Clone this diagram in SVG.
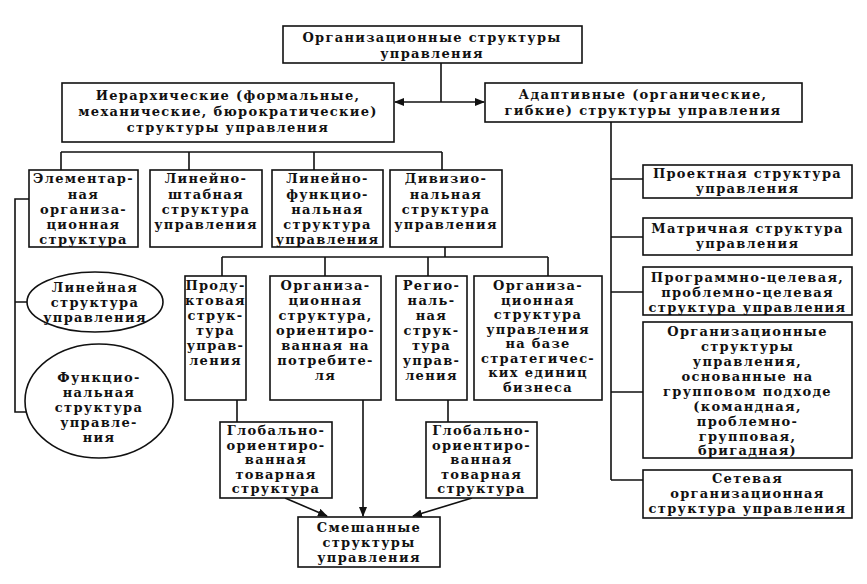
<svg xmlns="http://www.w3.org/2000/svg" width="867" height="584" viewBox="0 0 867 584">
<style>
.b{fill:#fff;stroke:#111;stroke-width:1.6}
.t{font-family:"DejaVu Serif","Liberation Serif",serif;font-weight:bold;font-size:13px;letter-spacing:1.3px;fill:#111;text-anchor:middle}
.c{fill:none;stroke:#111;stroke-width:1.6}
</style>
<defs>
<marker id="ah" markerWidth="10" markerHeight="8" refX="9" refY="4" orient="auto" markerUnits="userSpaceOnUse">
<path d="M0,0 L10,4 L0,8 Z" fill="#111"/>
</marker>
</defs>
<rect width="867" height="584" fill="#fff"/>
<g id="connectors">
<path class="c" d="M441 63 V102"/>
<path class="c" d="M441 102 H395" marker-end="url(#ah)"/>
<path class="c" d="M441 102 H484" marker-end="url(#ah)"/>
<path class="c" d="M61 152 H442 M61 152 V170 M189 152 V170 M314 152 V170 M442 152 V170"/>
<path class="c" d="M611 122 V480 M611 179 H643 M611 237 H643 M611 292 H643 M611 392 H643 M611 480 H643"/>
<path class="c" d="M29 199 H15 V412 H27 M15 302 H28"/>
<path class="c" d="M445 247 V257 M222 257 H548 M222 257 V276 M325 257 V276 M428 257 V276 M548 257 V276"/>
<path class="c" d="M237 400 V422 M448 400 V422"/>
<path class="c" d="M363 400 V516" marker-end="url(#ah)"/>
<path class="c" d="M285 498 L327 516" marker-end="url(#ah)"/>
<path class="c" d="M472 498 L413 516" marker-end="url(#ah)"/>
</g>
<g id="root"><rect class="b" x="283" y="26" width="299" height="37"/>
<text class="t"><tspan x="432" y="42">Организационные структуры</tspan><tspan x="432" y="58">управления</tspan></text></g>
<g id="hier"><rect class="b" x="62" y="83" width="332" height="59"/>
<text class="t"><tspan x="228" y="100">Иерархические (формальные,</tspan><tspan x="228" y="116">механические, бюрократические)</tspan><tspan x="228" y="132">структуры управления</tspan></text></g>
<g id="adapt"><rect class="b" x="485" y="83" width="317" height="39"/>
<text class="t"><tspan x="643" y="99">Адаптивные (органические,</tspan><tspan x="643" y="115">гибкие) структуры управления</tspan></text></g>
<g id="elem"><rect class="b" x="29" y="170" width="109" height="77"/>
<text class="t"><tspan x="83.5" y="183">Элементар-</tspan><tspan x="83.5" y="199">ная</tspan><tspan x="83.5" y="214">организа-</tspan><tspan x="83.5" y="229">ционная</tspan><tspan x="83.5" y="244">структура</tspan></text></g>
<g id="linstaff"><rect class="b" x="150" y="170" width="112" height="77"/>
<text class="t"><tspan x="206" y="183">Линейно-</tspan><tspan x="206" y="199">штабная</tspan><tspan x="206" y="214">структура</tspan><tspan x="206" y="229">управления</tspan></text></g>
<g id="linfunc"><rect class="b" x="272" y="170" width="111" height="77"/>
<text class="t"><tspan x="327.5" y="183">Линейно-</tspan><tspan x="327.5" y="199">функцио-</tspan><tspan x="327.5" y="214">нальная</tspan><tspan x="327.5" y="229">структура</tspan><tspan x="327.5" y="244">управления</tspan></text></g>
<g id="divis"><rect class="b" x="390" y="170" width="112" height="77"/>
<text class="t"><tspan x="446" y="183">Дивизио-</tspan><tspan x="446" y="199">нальная</tspan><tspan x="446" y="214">структура</tspan><tspan x="446" y="229">управления</tspan></text></g>
<g id="linear"><ellipse class="b" cx="95" cy="302" rx="68" ry="30"/>
<text class="t"><tspan x="95" y="292">Линейная</tspan><tspan x="95" y="307">структура</tspan><tspan x="95" y="322">управления</tspan></text></g>
<g id="func"><ellipse class="b" cx="99" cy="401" rx="74" ry="57"/>
<text class="t"><tspan x="99" y="382">Функцио-</tspan><tspan x="99" y="397">нальная</tspan><tspan x="99" y="412">структура</tspan><tspan x="99" y="427">управле-</tspan><tspan x="99" y="442">ния</tspan></text></g>
<g id="product"><rect class="b" x="185" y="276" width="61" height="124"/>
<text class="t"><tspan x="215.5" y="290">Проду-</tspan><tspan x="215.5" y="305">ктовая</tspan><tspan x="215.5" y="320">струк-</tspan><tspan x="215.5" y="335">тура</tspan><tspan x="215.5" y="350">управ-</tspan><tspan x="215.5" y="365">ления</tspan></text></g>
<g id="consumer"><rect class="b" x="270" y="276" width="111" height="124"/>
<text class="t"><tspan x="325.5" y="290">Организа-</tspan><tspan x="325.5" y="305">ционная</tspan><tspan x="325.5" y="320">структура,</tspan><tspan x="325.5" y="335">ориентиро-</tspan><tspan x="325.5" y="350">ванная на</tspan><tspan x="325.5" y="365">потребите-</tspan><tspan x="325.5" y="380">ля</tspan></text></g>
<g id="region"><rect class="b" x="396" y="276" width="71" height="124"/>
<text class="t"><tspan x="431.5" y="290">Регио-</tspan><tspan x="431.5" y="305">наль-</tspan><tspan x="431.5" y="320">ная</tspan><tspan x="431.5" y="335">струк-</tspan><tspan x="431.5" y="350">тура</tspan><tspan x="431.5" y="365">управ-</tspan><tspan x="431.5" y="380">ления</tspan></text></g>
<g id="seb"><rect class="b" x="474" y="276" width="128" height="124"/>
<text class="t"><tspan x="538" y="290">Организа-</tspan><tspan x="538" y="304.5">ционная</tspan><tspan x="538" y="319">структура</tspan><tspan x="538" y="333.5">управления</tspan><tspan x="538" y="348">на базе</tspan><tspan x="538" y="362.5">стратегичес-</tspan><tspan x="538" y="377">ких единиц</tspan><tspan x="538" y="391.5">бизнеса</tspan></text></g>
<g id="global1"><rect class="b" x="220" y="422" width="112" height="76"/>
<text class="t"><tspan x="276" y="435">Глобально-</tspan><tspan x="276" y="449.5">ориентиро-</tspan><tspan x="276" y="464">ванная</tspan><tspan x="276" y="478.5">товарная</tspan><tspan x="276" y="493">структура</tspan></text></g>
<g id="global2"><rect class="b" x="426" y="422" width="111" height="76"/>
<text class="t"><tspan x="481.5" y="435">Глобально-</tspan><tspan x="481.5" y="449.5">ориентиро-</tspan><tspan x="481.5" y="464">ванная</tspan><tspan x="481.5" y="478.5">товарная</tspan><tspan x="481.5" y="493">структура</tspan></text></g>
<g id="mixed"><rect class="b" x="298" y="517" width="142" height="50"/>
<text class="t"><tspan x="369" y="532">Смешанные</tspan><tspan x="369" y="547">структуры</tspan><tspan x="369" y="562">управления</tspan></text></g>
<g id="project"><rect class="b" x="643" y="165" width="209" height="33"/>
<text class="t"><tspan x="747.5" y="178">Проектная структура</tspan><tspan x="747.5" y="193">управления</tspan></text></g>
<g id="matrix"><rect class="b" x="643" y="218" width="209" height="37"/>
<text class="t"><tspan x="747.5" y="233">Матричная структура</tspan><tspan x="747.5" y="248">управления</tspan></text></g>
<g id="program"><rect class="b" x="643" y="267" width="209" height="48"/>
<text class="t"><tspan x="747.5" y="282">Программно-целевая,</tspan><tspan x="747.5" y="297">проблемно-целевая</tspan><tspan x="747.5" y="312">структура управления</tspan></text></g>
<g id="group"><rect class="b" x="643" y="322" width="209" height="136"/>
<text class="t"><tspan x="747.5" y="336">Организационные</tspan><tspan x="747.5" y="351">структуры</tspan><tspan x="747.5" y="366">управления,</tspan><tspan x="747.5" y="381">основанные на</tspan><tspan x="747.5" y="396">групповом подходе</tspan><tspan x="747.5" y="411">(командная,</tspan><tspan x="747.5" y="426">проблемно-</tspan><tspan x="747.5" y="441">групповая,</tspan><tspan x="747.5" y="455">бригадная)</tspan></text></g>
<g id="network"><rect class="b" x="643" y="470" width="209" height="48"/>
<text class="t"><tspan x="747.5" y="483">Сетевая</tspan><tspan x="747.5" y="498">организационная</tspan><tspan x="747.5" y="513">структура управления</tspan></text></g>
</svg>
